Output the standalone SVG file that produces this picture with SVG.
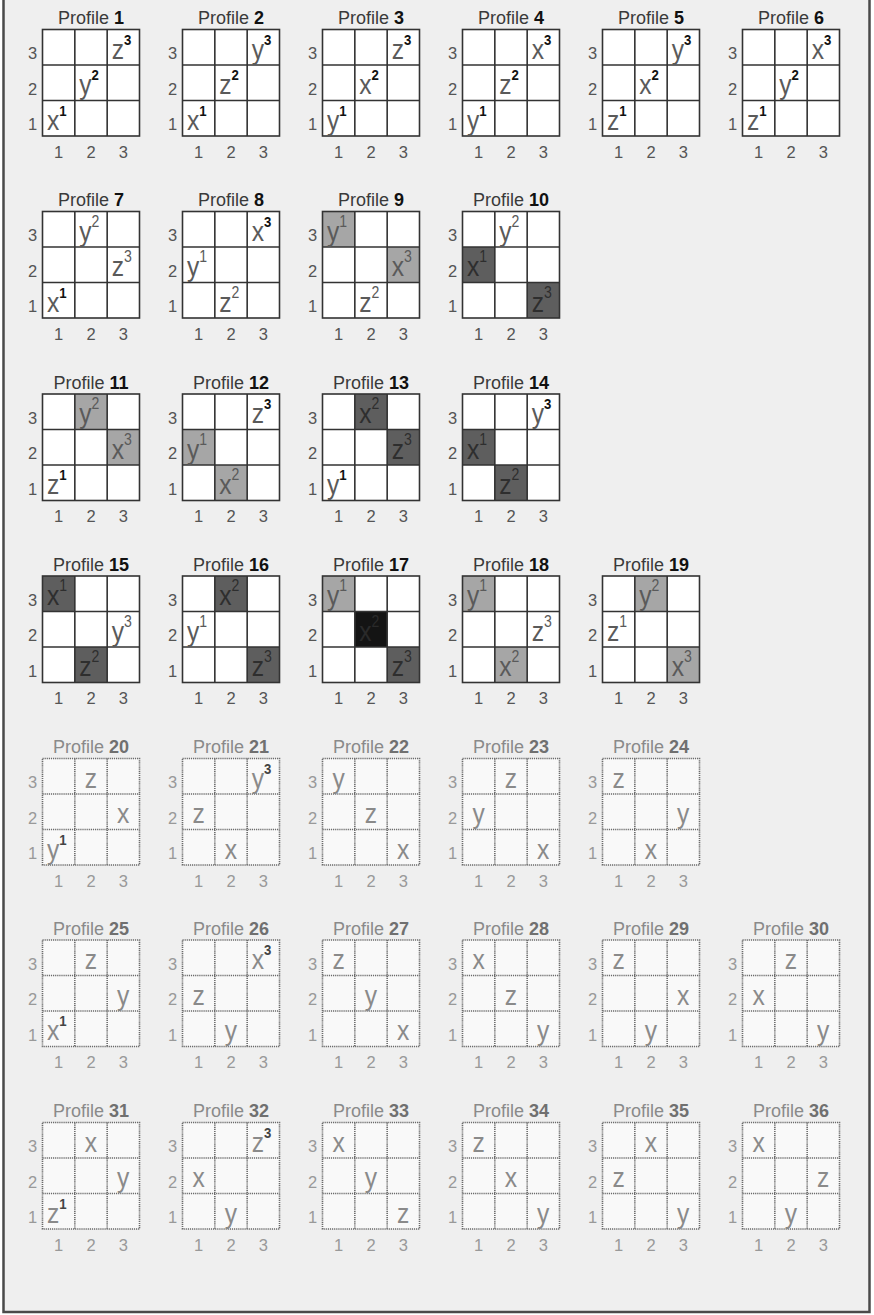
<svg xmlns="http://www.w3.org/2000/svg" xmlns:xlink="http://www.w3.org/1999/xlink" width="874" height="1315" viewBox="0 0 874 1315">
<style>
text{font-family:"Liberation Sans",Arial,sans-serif}
.t{font-size:18px;fill:#3a3a3a;text-anchor:middle}
.t tspan{font-weight:bold;fill:#111}
.td{fill:#8a8a8a}
.td tspan{fill:#707070}
.L text{font-size:28px;fill:#5a5a5a}
.L .c{text-anchor:middle;fill:#8a8a8a}
.L .g{fill:#8a8a8a}
.L .o{fill:#2e2e2e}
.b{font-size:15px;font-weight:bold;fill:#111}
.b2{font-size:15px;font-weight:bold;fill:#444}
.n{font-size:16px}
.lt{fill:#a6a6a6}
.dk{fill:#5e5e5e}
.bk{fill:#141414}
</style>
<defs>
<rect id="bg" width="97" height="106.5" fill="#fff"/>
<rect id="bg2" width="97" height="106.5" fill="#f9f9f9"/>
<g id="gs" fill="none" stroke="#333" stroke-width="1.6"><rect width="97" height="106.5"/><path d="M32.33 0V106.5M64.67 0V106.5M0 35.5H97M0 71H97"/></g>
<g id="gd" fill="none" stroke="#6a6a6a" stroke-width="1.6" stroke-dasharray="1.2 0.9"><rect width="97" height="106.5"/><path d="M32.33 0V106.5M64.67 0V106.5M0 35.5H97M0 71H97"/></g>
<g id="lab" text-anchor="middle"><text x="-10" y="29.5" style="font-size:16.5px">3</text><text x="-10" y="65" style="font-size:16.5px">2</text><text x="-10" y="100.5" style="font-size:16.5px">1</text><text x="16.2" y="128" style="font-size:16.5px">1</text><text x="48.5" y="128" style="font-size:16.5px">2</text><text x="80.8" y="128" style="font-size:16.5px">3</text></g>
</defs>
<rect width="874" height="1315" fill="#fff"/>
<rect x="3.5" y="-10" width="866" height="1322" fill="#efefef" stroke="#4a4a4a" stroke-width="2.5"/>

<g id="p1" transform="translate(42.5,29.5)"><use xlink:href="#bg"/><use xlink:href="#gs"/><use xlink:href="#lab" fill="#555"/><text class="t" x="48.5" y="-5.5">Profile <tspan>1</tspan></text><g class="L" transform="scale(.88,1)"><text x="5.1" y="100.5">x<tspan class="b" dy="-14">1</tspan></text><text x="41.8" y="65">y<tspan class="b" dy="-14">2</tspan></text><text x="78.6" y="29.5">z<tspan class="b" dy="-14">3</tspan></text></g></g>
<g id="p2" transform="translate(182.5,29.5)"><use xlink:href="#bg"/><use xlink:href="#gs"/><use xlink:href="#lab" fill="#555"/><text class="t" x="48.5" y="-5.5">Profile <tspan>2</tspan></text><g class="L" transform="scale(.88,1)"><text x="5.1" y="100.5">x<tspan class="b" dy="-14">1</tspan></text><text x="41.8" y="65">z<tspan class="b" dy="-14">2</tspan></text><text x="78.6" y="29.5">y<tspan class="b" dy="-14">3</tspan></text></g></g>
<g id="p3" transform="translate(322.5,29.5)"><use xlink:href="#bg"/><use xlink:href="#gs"/><use xlink:href="#lab" fill="#555"/><text class="t" x="48.5" y="-5.5">Profile <tspan>3</tspan></text><g class="L" transform="scale(.88,1)"><text x="5.1" y="100.5">y<tspan class="b" dy="-14">1</tspan></text><text x="41.8" y="65">x<tspan class="b" dy="-14">2</tspan></text><text x="78.6" y="29.5">z<tspan class="b" dy="-14">3</tspan></text></g></g>
<g id="p4" transform="translate(462.5,29.5)"><use xlink:href="#bg"/><use xlink:href="#gs"/><use xlink:href="#lab" fill="#555"/><text class="t" x="48.5" y="-5.5">Profile <tspan>4</tspan></text><g class="L" transform="scale(.88,1)"><text x="5.1" y="100.5">y<tspan class="b" dy="-14">1</tspan></text><text x="41.8" y="65">z<tspan class="b" dy="-14">2</tspan></text><text x="78.6" y="29.5">x<tspan class="b" dy="-14">3</tspan></text></g></g>
<g id="p5" transform="translate(602.5,29.5)"><use xlink:href="#bg"/><use xlink:href="#gs"/><use xlink:href="#lab" fill="#555"/><text class="t" x="48.5" y="-5.5">Profile <tspan>5</tspan></text><g class="L" transform="scale(.88,1)"><text x="5.1" y="100.5">z<tspan class="b" dy="-14">1</tspan></text><text x="41.8" y="65">x<tspan class="b" dy="-14">2</tspan></text><text x="78.6" y="29.5">y<tspan class="b" dy="-14">3</tspan></text></g></g>
<g id="p6" transform="translate(742.5,29.5)"><use xlink:href="#bg"/><use xlink:href="#gs"/><use xlink:href="#lab" fill="#555"/><text class="t" x="48.5" y="-5.5">Profile <tspan>6</tspan></text><g class="L" transform="scale(.88,1)"><text x="5.1" y="100.5">z<tspan class="b" dy="-14">1</tspan></text><text x="41.8" y="65">y<tspan class="b" dy="-14">2</tspan></text><text x="78.6" y="29.5">x<tspan class="b" dy="-14">3</tspan></text></g></g>

<g id="p7" transform="translate(42.5,211.5)"><use xlink:href="#bg"/><use xlink:href="#gs"/><use xlink:href="#lab" fill="#555"/><text class="t" x="48.5" y="-5.5">Profile <tspan>7</tspan></text><g class="L" transform="scale(.88,1)"><text x="5.1" y="100.5">x<tspan class="b" dy="-14">1</tspan></text><text x="41.8" y="29.5">y<tspan class="n" dy="-14">2</tspan></text><text x="78.6" y="65">z<tspan class="n" dy="-14">3</tspan></text></g></g>
<g id="p8" transform="translate(182.5,211.5)"><use xlink:href="#bg"/><use xlink:href="#gs"/><use xlink:href="#lab" fill="#555"/><text class="t" x="48.5" y="-5.5">Profile <tspan>8</tspan></text><g class="L" transform="scale(.88,1)"><text x="5.1" y="65">y<tspan class="n" dy="-14">1</tspan></text><text x="41.8" y="100.5">z<tspan class="n" dy="-14">2</tspan></text><text x="78.6" y="29.5">x<tspan class="b" dy="-14">3</tspan></text></g></g>
<g id="p9" transform="translate(322.5,211.5)"><use xlink:href="#bg"/><rect class="lt" x="0" y="0" width="32.33" height="35.5"/><rect class="lt" x="64.67" y="35.5" width="32.33" height="35.5"/><use xlink:href="#gs"/><use xlink:href="#lab" fill="#555"/><text class="t" x="48.5" y="-5.5">Profile <tspan>9</tspan></text><g class="L" transform="scale(.88,1)"><text x="5.1" y="29.5">y<tspan class="n" dy="-14">1</tspan></text><text x="41.8" y="100.5">z<tspan class="n" dy="-14">2</tspan></text><text x="78.6" y="65">x<tspan class="n" dy="-14">3</tspan></text></g></g>
<g id="p10" transform="translate(462.5,211.5)"><use xlink:href="#bg"/><rect class="dk" x="0" y="35.5" width="32.33" height="35.5"/><rect class="dk" x="64.67" y="71" width="32.33" height="35.5"/><use xlink:href="#gs"/><use xlink:href="#lab" fill="#555"/><text class="t" x="48.5" y="-5.5">Profile <tspan>10</tspan></text><g class="L" transform="scale(.88,1)"><text class="o" x="5.1" y="65">x<tspan class="n" dy="-14">1</tspan></text><text x="41.8" y="29.5">y<tspan class="n" dy="-14">2</tspan></text><text class="o" x="78.6" y="100.5">z<tspan class="n" dy="-14">3</tspan></text></g></g>

<g id="p11" transform="translate(42.5,394)"><use xlink:href="#bg"/><rect class="lt" x="32.33" y="0" width="32.33" height="35.5"/><rect class="lt" x="64.67" y="35.5" width="32.33" height="35.5"/><use xlink:href="#gs"/><use xlink:href="#lab" fill="#555"/><text class="t" x="48.5" y="-5.5">Profile <tspan>11</tspan></text><g class="L" transform="scale(.88,1)"><text x="5.1" y="100.5">z<tspan class="b" dy="-14">1</tspan></text><text x="41.8" y="29.5">y<tspan class="n" dy="-14">2</tspan></text><text x="78.6" y="65">x<tspan class="n" dy="-14">3</tspan></text></g></g>
<g id="p12" transform="translate(182.5,394)"><use xlink:href="#bg"/><rect class="lt" x="0" y="35.5" width="32.33" height="35.5"/><rect class="lt" x="32.33" y="71" width="32.33" height="35.5"/><use xlink:href="#gs"/><use xlink:href="#lab" fill="#555"/><text class="t" x="48.5" y="-5.5">Profile <tspan>12</tspan></text><g class="L" transform="scale(.88,1)"><text x="5.1" y="65">y<tspan class="n" dy="-14">1</tspan></text><text x="41.8" y="100.5">x<tspan class="n" dy="-14">2</tspan></text><text x="78.6" y="29.5">z<tspan class="b" dy="-14">3</tspan></text></g></g>
<g id="p13" transform="translate(322.5,394)"><use xlink:href="#bg"/><rect class="dk" x="32.33" y="0" width="32.33" height="35.5"/><rect class="dk" x="64.67" y="35.5" width="32.33" height="35.5"/><use xlink:href="#gs"/><use xlink:href="#lab" fill="#555"/><text class="t" x="48.5" y="-5.5">Profile <tspan>13</tspan></text><g class="L" transform="scale(.88,1)"><text x="5.1" y="100.5">y<tspan class="b" dy="-14">1</tspan></text><text class="o" x="41.8" y="29.5">x<tspan class="n" dy="-14">2</tspan></text><text class="o" x="78.6" y="65">z<tspan class="n" dy="-14">3</tspan></text></g></g>
<g id="p14" transform="translate(462.5,394)"><use xlink:href="#bg"/><rect class="dk" x="0" y="35.5" width="32.33" height="35.5"/><rect class="dk" x="32.33" y="71" width="32.33" height="35.5"/><use xlink:href="#gs"/><use xlink:href="#lab" fill="#555"/><text class="t" x="48.5" y="-5.5">Profile <tspan>14</tspan></text><g class="L" transform="scale(.88,1)"><text class="o" x="5.1" y="65">x<tspan class="n" dy="-14">1</tspan></text><text class="o" x="41.8" y="100.5">z<tspan class="n" dy="-14">2</tspan></text><text x="78.6" y="29.5">y<tspan class="b" dy="-14">3</tspan></text></g></g>

<g id="p15" transform="translate(42.5,576)"><use xlink:href="#bg"/><rect class="dk" x="0" y="0" width="32.33" height="35.5"/><rect class="dk" x="32.33" y="71" width="32.33" height="35.5"/><use xlink:href="#gs"/><use xlink:href="#lab" fill="#555"/><text class="t" x="48.5" y="-5.5">Profile <tspan>15</tspan></text><g class="L" transform="scale(.88,1)"><text class="o" x="5.1" y="29.5">x<tspan class="n" dy="-14">1</tspan></text><text class="o" x="41.8" y="100.5">z<tspan class="n" dy="-14">2</tspan></text><text x="78.6" y="65">y<tspan class="n" dy="-14">3</tspan></text></g></g>
<g id="p16" transform="translate(182.5,576)"><use xlink:href="#bg"/><rect class="dk" x="32.33" y="0" width="32.33" height="35.5"/><rect class="dk" x="64.67" y="71" width="32.33" height="35.5"/><use xlink:href="#gs"/><use xlink:href="#lab" fill="#555"/><text class="t" x="48.5" y="-5.5">Profile <tspan>16</tspan></text><g class="L" transform="scale(.88,1)"><text x="5.1" y="65">y<tspan class="n" dy="-14">1</tspan></text><text class="o" x="41.8" y="29.5">x<tspan class="n" dy="-14">2</tspan></text><text class="o" x="78.6" y="100.5">z<tspan class="n" dy="-14">3</tspan></text></g></g>
<g id="p17" transform="translate(322.5,576)"><use xlink:href="#bg"/><rect class="lt" x="0" y="0" width="32.33" height="35.5"/><rect class="bk" x="32.33" y="35.5" width="32.33" height="35.5"/><rect class="dk" x="64.67" y="71" width="32.33" height="35.5"/><use xlink:href="#gs"/><use xlink:href="#lab" fill="#555"/><text class="t" x="48.5" y="-5.5">Profile <tspan>17</tspan></text><g class="L" transform="scale(.88,1)"><text x="5.1" y="29.5">y<tspan class="n" dy="-14">1</tspan></text><text x="41.8" y="65" style="fill:#2a2a2a">x<tspan class="n" dy="-14">2</tspan></text><text class="o" x="78.6" y="100.5">z<tspan class="n" dy="-14">3</tspan></text></g></g>
<g id="p18" transform="translate(462.5,576)"><use xlink:href="#bg"/><rect class="lt" x="0" y="0" width="32.33" height="35.5"/><rect class="lt" x="32.33" y="71" width="32.33" height="35.5"/><use xlink:href="#gs"/><use xlink:href="#lab" fill="#555"/><text class="t" x="48.5" y="-5.5">Profile <tspan>18</tspan></text><g class="L" transform="scale(.88,1)"><text x="5.1" y="29.5">y<tspan class="n" dy="-14">1</tspan></text><text x="41.8" y="100.5">x<tspan class="n" dy="-14">2</tspan></text><text x="78.6" y="65">z<tspan class="n" dy="-14">3</tspan></text></g></g>
<g id="p19" transform="translate(602.5,576)"><use xlink:href="#bg"/><rect class="lt" x="32.33" y="0" width="32.33" height="35.5"/><rect class="lt" x="64.67" y="71" width="32.33" height="35.5"/><use xlink:href="#gs"/><use xlink:href="#lab" fill="#555"/><text class="t" x="48.5" y="-5.5">Profile <tspan>19</tspan></text><g class="L" transform="scale(.88,1)"><text x="5.1" y="65">z<tspan class="n" dy="-14">1</tspan></text><text x="41.8" y="29.5">y<tspan class="n" dy="-14">2</tspan></text><text x="78.6" y="100.5">x<tspan class="n" dy="-14">3</tspan></text></g></g>

<g id="p20" transform="translate(42.5,758.5)"><use xlink:href="#bg2"/><use xlink:href="#gd"/><use xlink:href="#lab" fill="#999"/><text class="t td" x="48.5" y="-5.5">Profile <tspan>20</tspan></text><g class="L" transform="scale(.88,1)"><text class="g" x="5.1" y="100.5">y<tspan class="b2" dy="-14">1</tspan></text><text class="c" x="55.1" y="29.5">z</text><text class="c" x="91.8" y="65">x</text></g></g>
<g id="p21" transform="translate(182.5,758.5)"><use xlink:href="#bg2"/><use xlink:href="#gd"/><use xlink:href="#lab" fill="#999"/><text class="t td" x="48.5" y="-5.5">Profile <tspan>21</tspan></text><g class="L" transform="scale(.88,1)"><text class="c" x="18.4" y="65">z</text><text class="c" x="55.1" y="100.5">x</text><text class="g" x="78.6" y="29.5">y<tspan class="b2" dy="-14">3</tspan></text></g></g>
<g id="p22" transform="translate(322.5,758.5)"><use xlink:href="#bg2"/><use xlink:href="#gd"/><use xlink:href="#lab" fill="#999"/><text class="t td" x="48.5" y="-5.5">Profile <tspan>22</tspan></text><g class="L" transform="scale(.88,1)"><text class="c" x="18.4" y="29.5">y</text><text class="c" x="55.1" y="65">z</text><text class="c" x="91.8" y="100.5">x</text></g></g>
<g id="p23" transform="translate(462.5,758.5)"><use xlink:href="#bg2"/><use xlink:href="#gd"/><use xlink:href="#lab" fill="#999"/><text class="t td" x="48.5" y="-5.5">Profile <tspan>23</tspan></text><g class="L" transform="scale(.88,1)"><text class="c" x="18.4" y="65">y</text><text class="c" x="55.1" y="29.5">z</text><text class="c" x="91.8" y="100.5">x</text></g></g>
<g id="p24" transform="translate(602.5,758.5)"><use xlink:href="#bg2"/><use xlink:href="#gd"/><use xlink:href="#lab" fill="#999"/><text class="t td" x="48.5" y="-5.5">Profile <tspan>24</tspan></text><g class="L" transform="scale(.88,1)"><text class="c" x="18.4" y="29.5">z</text><text class="c" x="55.1" y="100.5">x</text><text class="c" x="91.8" y="65">y</text></g></g>

<g id="p25" transform="translate(42.5,940)"><use xlink:href="#bg2"/><use xlink:href="#gd"/><use xlink:href="#lab" fill="#999"/><text class="t td" x="48.5" y="-5.5">Profile <tspan>25</tspan></text><g class="L" transform="scale(.88,1)"><text class="g" x="5.1" y="100.5">x<tspan class="b2" dy="-14">1</tspan></text><text class="c" x="55.1" y="29.5">z</text><text class="c" x="91.8" y="65">y</text></g></g>
<g id="p26" transform="translate(182.5,940)"><use xlink:href="#bg2"/><use xlink:href="#gd"/><use xlink:href="#lab" fill="#999"/><text class="t td" x="48.5" y="-5.5">Profile <tspan>26</tspan></text><g class="L" transform="scale(.88,1)"><text class="c" x="18.4" y="65">z</text><text class="c" x="55.1" y="100.5">y</text><text class="g" x="78.6" y="29.5">x<tspan class="b2" dy="-14">3</tspan></text></g></g>
<g id="p27" transform="translate(322.5,940)"><use xlink:href="#bg2"/><use xlink:href="#gd"/><use xlink:href="#lab" fill="#999"/><text class="t td" x="48.5" y="-5.5">Profile <tspan>27</tspan></text><g class="L" transform="scale(.88,1)"><text class="c" x="18.4" y="29.5">z</text><text class="c" x="55.1" y="65">y</text><text class="c" x="91.8" y="100.5">x</text></g></g>
<g id="p28" transform="translate(462.5,940)"><use xlink:href="#bg2"/><use xlink:href="#gd"/><use xlink:href="#lab" fill="#999"/><text class="t td" x="48.5" y="-5.5">Profile <tspan>28</tspan></text><g class="L" transform="scale(.88,1)"><text class="c" x="18.4" y="29.5">x</text><text class="c" x="55.1" y="65">z</text><text class="c" x="91.8" y="100.5">y</text></g></g>
<g id="p29" transform="translate(602.5,940)"><use xlink:href="#bg2"/><use xlink:href="#gd"/><use xlink:href="#lab" fill="#999"/><text class="t td" x="48.5" y="-5.5">Profile <tspan>29</tspan></text><g class="L" transform="scale(.88,1)"><text class="c" x="18.4" y="29.5">z</text><text class="c" x="55.1" y="100.5">y</text><text class="c" x="91.8" y="65">x</text></g></g>
<g id="p30" transform="translate(742.5,940)"><use xlink:href="#bg2"/><use xlink:href="#gd"/><use xlink:href="#lab" fill="#999"/><text class="t td" x="48.5" y="-5.5">Profile <tspan>30</tspan></text><g class="L" transform="scale(.88,1)"><text class="c" x="18.4" y="65">x</text><text class="c" x="55.1" y="29.5">z</text><text class="c" x="91.8" y="100.5">y</text></g></g>

<g id="p31" transform="translate(42.5,1122.5)"><use xlink:href="#bg2"/><use xlink:href="#gd"/><use xlink:href="#lab" fill="#999"/><text class="t td" x="48.5" y="-5.5">Profile <tspan>31</tspan></text><g class="L" transform="scale(.88,1)"><text class="g" x="5.1" y="100.5">z<tspan class="b2" dy="-14">1</tspan></text><text class="c" x="55.1" y="29.5">x</text><text class="c" x="91.8" y="65">y</text></g></g>
<g id="p32" transform="translate(182.5,1122.5)"><use xlink:href="#bg2"/><use xlink:href="#gd"/><use xlink:href="#lab" fill="#999"/><text class="t td" x="48.5" y="-5.5">Profile <tspan>32</tspan></text><g class="L" transform="scale(.88,1)"><text class="c" x="18.4" y="65">x</text><text class="c" x="55.1" y="100.5">y</text><text class="g" x="78.6" y="29.5">z<tspan class="b2" dy="-14">3</tspan></text></g></g>
<g id="p33" transform="translate(322.5,1122.5)"><use xlink:href="#bg2"/><use xlink:href="#gd"/><use xlink:href="#lab" fill="#999"/><text class="t td" x="48.5" y="-5.5">Profile <tspan>33</tspan></text><g class="L" transform="scale(.88,1)"><text class="c" x="18.4" y="29.5">x</text><text class="c" x="55.1" y="65">y</text><text class="c" x="91.8" y="100.5">z</text></g></g>
<g id="p34" transform="translate(462.5,1122.5)"><use xlink:href="#bg2"/><use xlink:href="#gd"/><use xlink:href="#lab" fill="#999"/><text class="t td" x="48.5" y="-5.5">Profile <tspan>34</tspan></text><g class="L" transform="scale(.88,1)"><text class="c" x="18.4" y="29.5">z</text><text class="c" x="55.1" y="65">x</text><text class="c" x="91.8" y="100.5">y</text></g></g>
<g id="p35" transform="translate(602.5,1122.5)"><use xlink:href="#bg2"/><use xlink:href="#gd"/><use xlink:href="#lab" fill="#999"/><text class="t td" x="48.5" y="-5.5">Profile <tspan>35</tspan></text><g class="L" transform="scale(.88,1)"><text class="c" x="18.4" y="65">z</text><text class="c" x="55.1" y="29.5">x</text><text class="c" x="91.8" y="100.5">y</text></g></g>
<g id="p36" transform="translate(742.5,1122.5)"><use xlink:href="#bg2"/><use xlink:href="#gd"/><use xlink:href="#lab" fill="#999"/><text class="t td" x="48.5" y="-5.5">Profile <tspan>36</tspan></text><g class="L" transform="scale(.88,1)"><text class="c" x="18.4" y="29.5">x</text><text class="c" x="55.1" y="100.5">y</text><text class="c" x="91.8" y="65">z</text></g></g>
<g id="connectors"/>
</svg>
